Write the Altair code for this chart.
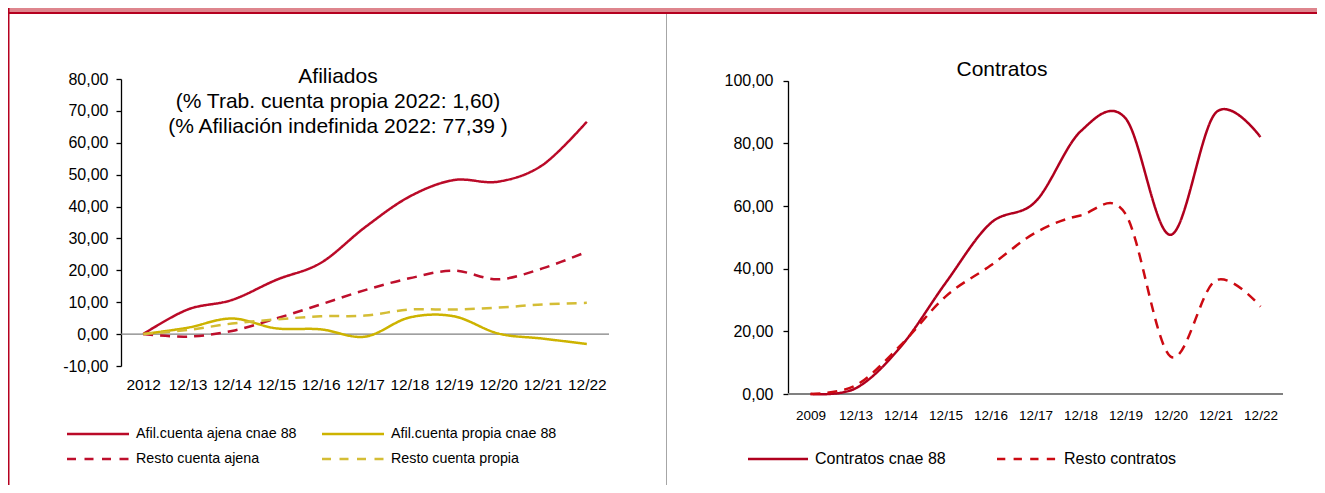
import altair as alt
import pandas as pd

# ---------------- data ----------------
left_categories = ["2012", "12/13", "12/14", "12/15", "12/16", "12/17",
                   "12/18", "12/19", "12/20", "12/21", "12/22"]
afil_cuenta_ajena = [0.0, 7.7, 10.7, 17.0, 22.3, 33.5, 43.1, 48.3, 47.8, 53.0, 66.6]
afil_cuenta_propia = [0.0, 2.0, 4.9, 1.8, 1.5, -0.8, 5.2, 5.6, 0.2, -1.4, -3.1]
resto_cuenta_ajena = [0.0, -0.8, 1.0, 4.9, 9.3, 13.8, 17.5, 19.9, 17.2, 20.6, 25.8]
resto_cuenta_propia = [0.0, 1.3, 3.3, 4.6, 5.6, 5.8, 7.7, 7.7, 8.3, 9.3, 9.8]
left_series = ["Afil.cuenta ajena cnae 88", "Afil.cuenta propia cnae 88",
               "Resto cuenta ajena", "Resto cuenta propia"]
left_ticks = [-10, 0, 10, 20, 30, 40, 50, 60, 70, 80]
left_title_lines = ["Afiliados",
                    "(% Trab. cuenta propia 2022: 1,60)",
                    "(% Afiliación indefinida 2022: 77,39 )"]

right_categories = ["2009", "12/13", "12/14", "12/15", "12/16", "12/17",
                    "12/18", "12/19", "12/20", "12/21", "12/22"]
contratos_cnae = [0.0, 1.8, 15.0, 35.4, 54.5, 61.4, 83.8, 88.0, 50.8, 89.7, 82.0]
resto_contratos = [0.0, 2.7, 15.5, 31.1, 41.0, 51.5, 57.0, 57.5, 12.0, 36.2, 27.9]
right_series = ["Contratos cnae 88", "Resto contratos"]
right_ticks = [0, 20, 40, 60, 80, 100]
right_title = "Contratos"

# ---------------- style ----------------
FONT = "Liberation Sans"
W, H = 1309, 477
left_colors = ["#BA0A28", "#CDB300", "#BE0F2C", "#D4BD35"]
left_dashes = [[1, 0], [1, 0], [10, 7], [10, 7]]
left_legend_dashes = [[1, 0], [1, 0], [9, 8.5], [9, 8.5]]
right_colors = ["#B0001E", "#CC0A12"]
right_dashes = [[1, 0], [10, 7]]
right_legend_dashes = [[1, 0], [8.3, 8.3]]

one = pd.DataFrame({"k": [0]})
LABEL_EXPR = "replace(replace(format(datum.value, '.2f'), '.', ','), '\u2212', '-')"


def long_df(cats, names, cols):
    rows = []
    for name, vals in zip(names, cols):
        for c, v in zip(cats, vals):
            rows.append({"cat": c, "value": v, "series": name})
    return pd.DataFrame(rows)


def legend_entry(name, color, dash, x0, x1, y, tx, fs):
    sym = alt.Chart(one).mark_rule(color=color, strokeWidth=2.5, strokeDash=dash).encode(
        x=alt.value(x0), x2=alt.value(x1), y=alt.value(y))
    lab = alt.Chart(one).mark_text(align="left", baseline="middle", font=FONT,
                                   fontSize=fs, color="#000000").encode(
        x=alt.value(tx), y=alt.value(y), text=alt.value(name))
    return [sym, lab]


def panel(df, cats, names, colors, dashes, xrange, yrange, ydomain, yticks,
          yoff, ylabpad, xoff, xlabpad, xfs, zero_w):
    xs = alt.Scale(type="point", domain=cats, range=xrange, padding=0.5)
    ys = alt.Scale(domain=ydomain, range=yrange, nice=False, zero=False)
    zero = alt.Chart(one).mark_rule(color="#808080", strokeWidth=zero_w).encode(
        x=alt.value(xrange[0]), x2=alt.value(xrange[1]), y=alt.datum(0))
    lines = alt.Chart(df).mark_line(interpolate="cardinal", strokeWidth=2.5).encode(
        x=alt.X("cat:N", scale=xs, sort=cats,
                axis=alt.Axis(orient="bottom", offset=xoff, domain=False, ticks=False,
                              tickSize=0, labelPadding=xlabpad, labelFontSize=xfs,
                              labelFont=FONT, labelColor="#000000", labelAngle=0,
                              labelOverlap=False, title=None, grid=False)),
        y=alt.Y("value:Q", scale=ys,
                axis=alt.Axis(orient="left", offset=yoff, values=yticks,
                              labelExpr=LABEL_EXPR, title=None, grid=False,
                              domainColor="#000000", domainWidth=1.3,
                              tickColor="#000000", tickWidth=1.3, tickSize=5,
                              labelFontSize=16, labelFont=FONT, labelColor="#000000",
                              labelPadding=ylabpad)),
        color=alt.Color("series:N", scale=alt.Scale(domain=names, range=colors), legend=None),
        strokeDash=alt.StrokeDash("series:N", scale=alt.Scale(domain=names, range=dashes),
                                  legend=None),
        detail="series:N",
    )
    return zero, lines


# ---------------- left panel ----------------
df_left = long_df(left_categories, left_series,
                  [afil_cuenta_ajena, afil_cuenta_propia, resto_cuenta_ajena, resto_cuenta_propia])
lz, ll = panel(df_left, left_categories, left_series, left_colors, left_dashes,
               [113, 601], [358, 71], [-10, 80], left_ticks,
               -113, 8, 358 - H, 11, 15.5, 1.2)
left_layers = [lz, ll]
for i, line in enumerate(left_title_lines):
    left_layers.append(
        alt.Chart(one).mark_text(align="center", baseline="middle", font=FONT,
                                 fontSize=21, color="#000000").encode(
            x=alt.value(330), y=alt.value(69 + 25 * i), text=alt.value(line)))
for i, name in enumerate(left_series):
    col, row = i % 2, i // 2
    x0 = 59 + 255 * col
    left_layers += legend_entry(name, left_colors[i], left_legend_dashes[i],
                                x0, x0 + 62, 426 + 25 * row, x0 + 69, 14.3)
left_panel = alt.layer(*left_layers)

# ---------------- right panel ----------------
df_right = long_df(right_categories, right_series, [contratos_cnae, resto_contratos])
rz, rl = panel(df_right, right_categories, right_series, right_colors, right_dashes,
               [780, 1275], [386, 72.7], [0, 100], right_ticks,
               -780, 10, 386 - H, 14, 13.5, 2)
right_layers = [rz, rl,
                alt.Chart(one).mark_text(align="center", baseline="middle", font=FONT,
                                         fontSize=21, color="#000000").encode(
                    x=alt.value(994), y=alt.value(62), text=alt.value(right_title))]
for i, name in enumerate(right_series):
    x0 = 740 + 249 * i
    right_layers += legend_entry(name, right_colors[i], right_legend_dashes[i],
                                 x0, x0 + 60, 451, x0 + 67, 16)
right_panel = alt.layer(*right_layers)

# ---------------- frame decorations ----------------
band = alt.Chart(one).mark_rect(color="#DE858D").encode(
    x=alt.value(0), x2=alt.value(W), y=alt.value(0), y2=alt.value(4))
band_line = alt.Chart(one).mark_rect(color="#B5001F").encode(
    x=alt.value(0), x2=alt.value(W), y=alt.value(4), y2=alt.value(6))
left_border = alt.Chart(one).mark_rule(color="#B5001F", strokeWidth=1.5).encode(
    x=alt.value(0.75), y=alt.value(0), y2=alt.value(H))
divider = alt.Chart(one).mark_rule(color="#A6A6A6", strokeWidth=1).encode(
    x=alt.value(658.5), y=alt.value(6), y2=alt.value(H))

chart = alt.layer(band, band_line, left_border, divider, left_panel, right_panel).resolve_scale(
    x="independent", y="independent", color="independent", strokeDash="independent"
).resolve_axis(
    x="independent", y="independent"
).properties(
    width=W, height=H, padding=0,
    autosize=alt.AutoSizeParams(type="none"),
    background="#FFFFFF",
).configure_view(stroke=None)

chart.save("out.html", embed_options={"renderer": "svg", "actions": False})
